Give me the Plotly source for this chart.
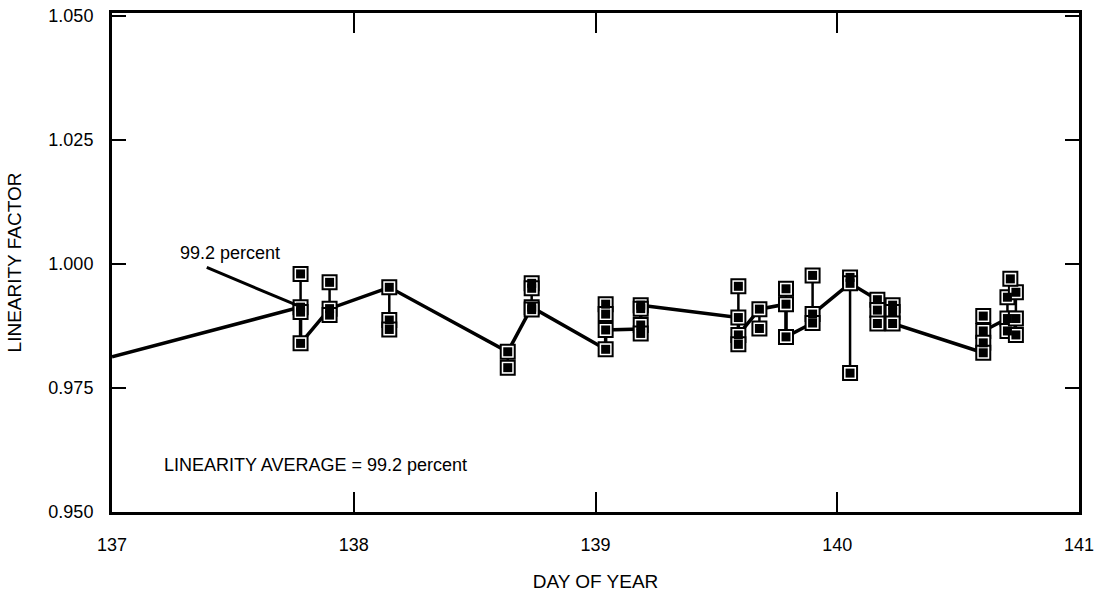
import plotly.graph_objects as go

# ---- data ----
cluster_days = [137.78, 137.90, 138.147, 138.637, 138.736, 139.042, 139.187,
                139.591, 139.678, 139.788, 139.898, 140.053, 140.166, 140.229,
                140.604, 140.704, 140.739, 140.716]
cluster_values = [
    [0.998, 0.9913, 0.9903, 0.984],
    [0.9963, 0.991, 0.9897],
    [0.9953, 0.9887, 0.9868],
    [0.9823, 0.9791],
    [0.9961, 0.9951, 0.9913, 0.9908],
    [0.9919, 0.9899, 0.9867, 0.9828],
    [0.9917, 0.991, 0.9877, 0.986],
    [0.9955, 0.9892, 0.9857, 0.9838],
    [0.9909, 0.987],
    [0.995, 0.9919, 0.9853],
    [0.9977, 0.9899, 0.9881],
    [0.9973, 0.9961, 0.978],
    [0.9928, 0.9907, 0.988],
    [0.9917, 0.9903, 0.988],
    [0.9895, 0.9865, 0.9841, 0.9821],
    [0.9933, 0.989, 0.9865],
    [0.9943, 0.989, 0.9857],
    [0.997],
]

path_days = [137.0, 137.78, 137.78, 137.90, 138.147, 138.637, 138.736, 139.042,
             139.042, 139.187, 139.187, 139.591, 139.591, 139.678, 139.788,
             139.788, 139.898, 139.898, 140.053, 140.166, 140.166, 140.229,
             140.229, 140.604, 140.604, 140.704]
path_values = [0.9813, 0.9913, 0.984, 0.991, 0.9953, 0.9823, 0.9913, 0.9828,
               0.9867, 0.9869, 0.9917, 0.9892, 0.9857, 0.9909, 0.9919,
               0.9853, 0.9881, 0.9899, 0.9961, 0.9928, 0.9907, 0.9903,
               0.988, 0.9821, 0.9865, 0.989]

x_ticks = [137, 138, 139, 140, 141]
y_ticks = [0.950, 0.975, 1.000, 1.025, 1.050]
y_tick_text = ["0.950", "0.975", "1.000", "1.025", "1.050"]

annot_point = (137.764, 0.9917)
annot_tail = (137.392, 0.9993)
annot_label_pos = (137.273, 1.0023)
average_label_pos = (137.207, 0.9595)

FONT = "Liberation Sans, Arial, Helvetica, sans-serif"

# ---- build ----
mx, my, vx, vy = [], [], [], []
for d, vals in zip(cluster_days, cluster_values):
    for v in vals:
        mx.append(d)
        my.append(v)
    if len(vals) > 1:
        vx += [d, d, None]
        vy += [min(vals), max(vals), None]

fig = go.Figure()
fig.add_trace(go.Scatter(x=vx, y=vy, mode="lines",
                         line=dict(color="black", width=2.5), hoverinfo="skip"))
fig.add_trace(go.Scatter(x=path_days, y=path_values, mode="lines",
                         line=dict(color="black", width=3.5), hoverinfo="skip"))
fig.add_trace(go.Scatter(x=mx, y=my, mode="markers",
                         marker=dict(symbol="square", size=14, color="white",
                                     line=dict(color="black", width=2))))
fig.add_trace(go.Scatter(x=mx, y=my, mode="markers",
                         marker=dict(symbol="square", size=9, color="black",
                                     line=dict(width=0))))

fig.add_shape(type="line", x0=annot_tail[0], y0=annot_tail[1],
              x1=annot_point[0], y1=annot_point[1],
              line=dict(color="black", width=3))
fig.add_annotation(x=annot_label_pos[0], y=annot_label_pos[1],
                   text="99.2 percent", showarrow=False, xanchor="left",
                   yanchor="middle", font=dict(size=18, color="black", family=FONT))
fig.add_annotation(x=average_label_pos[0], y=average_label_pos[1],
                   text="LINEARITY AVERAGE = 99.2 percent",
                   showarrow=False, xanchor="left", yanchor="middle",
                   font=dict(size=18, color="black", family=FONT))

axis_common = dict(showgrid=False, zeroline=False, showline=True,
                   linecolor="black", linewidth=3, mirror="ticks",
                   ticks="inside", tickcolor="black", tickwidth=2,
                   automargin=False,
                   tickfont=dict(size=18, color="black", family=FONT))

fig.update_xaxes(range=[137, 141], tickvals=x_ticks,
                 ticktext=[str(t) for t in x_ticks], ticklen=20,
                 ticklabelstandoff=14,
                 title=dict(text="DAY OF YEAR", standoff=22,
                            font=dict(size=19, color="black", family=FONT)),
                 **axis_common)
fig.update_yaxes(range=[0.950, 1.0506], tickvals=y_ticks, ticktext=y_tick_text,
                 ticklen=14, ticklabelstandoff=12,
                 title=dict(text="LINEARITY FACTOR", standoff=22,
                            font=dict(size=19, color="black", family=FONT)),
                 **axis_common)

fig.update_layout(width=1099, height=595, showlegend=False,
                  plot_bgcolor="white", paper_bgcolor="white",
                  margin=dict(l=112, r=20, t=13, b=83))

fig.write_html("out.html")
